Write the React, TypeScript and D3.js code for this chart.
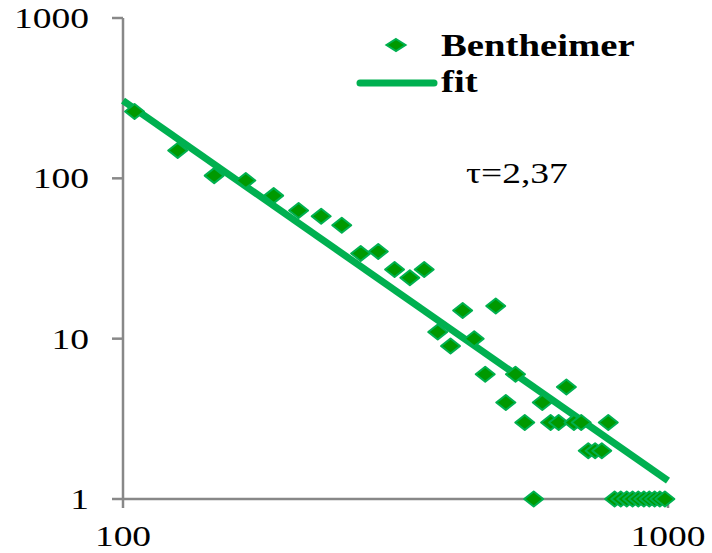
import React from "react";
import * as d3 from "d3";

// Cluster size (s) and number of clusters n(s), Bentheimer sandstone
const sizes = [105, 126, 147, 168, 189, 210, 231, 252, 273, 294, 315, 336, 357, 378, 399, 420, 441, 462, 483, 504, 525, 546, 567, 588, 609, 630, 651, 672, 693, 714, 735, 756, 777, 798, 819, 840, 861, 882, 903, 924, 945, 966, 987];
const counts = [261, 149, 104, 97, 78, 63, 58, 51, 34, 35, 27, 24, 27, 11, 9, 15, 10, 6, 16, 4, 6, 3, 1, 4, 3, 3, 5, 3, 3, 2, 2, 2, 3, 1, 1, 1, 1, 1, 1, 1, 1, 1, 1];

// Power-law fit n(s) = A * (s/100)^-tau
const fitA = 305;
const fitTau = 2.37;
const fitRange = [100, 1000];

const xTicks = [100, 1000];
const yTicks = [1, 10, 100, 1000];
const seriesName = "Bentheimer";
const fitName = "fit";
const tauLabel = "τ=2,37";

const W = 712;
const H = 553;
const GREEN_LINE = "#00B050";
const GREEN_FILL = "#009900";
const AXIS = "#888888";
const FONT = "'Liberation Serif', 'Times New Roman', serif";
const SX = 1.25;

const x = d3.scaleLog().domain([100, 1000]).range([123, 668]);
const y = d3.scaleLog().domain([1, 1000]).range([499, 18]);

const diamond = (w: number, h: number) => `M0,${-h} L${w},0 L0,${h} L${-w},0 Z`;

function Label({ x0, y0, anchor, size, bold, children }: any) {
  return (
    <text
      transform={`translate(${x0},${y0}) scale(${SX},1)`}
      textAnchor={anchor}
      fontFamily={FONT}
      fontSize={size}
      fontWeight={bold ? "bold" : "normal"}
      fill="#000"
    >
      {children}
    </text>
  );
}

export default function App() {
  const fitPts: [number, number][] = fitRange.map((s) => [x(s), y(fitA * Math.pow(s / 100, -fitTau))]);
  const fitPath = d3.line()(fitPts) as string;
  const pts = sizes.map((s, i) => ({ s, n: counts[i] }));

  return (
    <svg width={W} height={H} style={{ position: "absolute", left: 0, top: 0, background: "#fff" }}>
      <rect width={W} height={H} fill="#fff" />
      {/* axes */}
      <line x1={x(100)} x2={x(100)} y1={y(1000)} y2={y(1)} stroke={AXIS} strokeWidth={2.5} />
      <line x1={x(100)} x2={x(1000)} y1={y(1)} y2={y(1)} stroke={AXIS} strokeWidth={2.5} />
      {yTicks.map((t) => (
        <g key={"yt" + t}>
          <line x1={x(100) - 11} x2={x(100)} y1={y(t)} y2={y(t)} stroke={AXIS} strokeWidth={2.5} />
          <Label x0={89} y0={y(t) + 10} anchor="end" size={30}>
            {t}
          </Label>
        </g>
      ))}
      {xTicks.map((t) => (
        <g key={"xt" + t}>
          <line x1={x(t)} x2={x(t)} y1={y(1)} y2={y(1) + 9} stroke={AXIS} strokeWidth={2.5} />
          <Label x0={x(t)} y0={546} anchor="middle" size={30}>
            {t}
          </Label>
        </g>
      ))}

      {/* fit line */}
      <path d={fitPath} stroke={GREEN_LINE} strokeWidth={7} fill="none" strokeLinecap="butt" />

      {/* data markers */}
      {pts.map((p, i) => (
        <path
          key={i}
          transform={`translate(${x(p.s)},${y(p.n)})`}
          d={diamond(9.5, 7.5)}
          fill={GREEN_FILL}
          stroke={GREEN_LINE}
          strokeWidth={2}
          strokeLinejoin="round"
        />
      ))}

      {/* legend */}
      <path transform="translate(396,45)" d={diamond(9.5, 6)} fill={GREEN_FILL} stroke={GREEN_LINE} strokeWidth={2} />
      <Label x0={441} y0={56} anchor="start" size={31} bold>
        {seriesName}
      </Label>
      <line x1={360} x2={434} y1={83} y2={83} stroke={GREEN_LINE} strokeWidth={7} strokeLinecap="round" />
      <Label x0={441} y0={92} anchor="start" size={31} bold>
        {fitName}
      </Label>

      <Label x0={466} y0={183} anchor="start" size={30}>
        {tauLabel}
      </Label>
    </svg>
  );
}
